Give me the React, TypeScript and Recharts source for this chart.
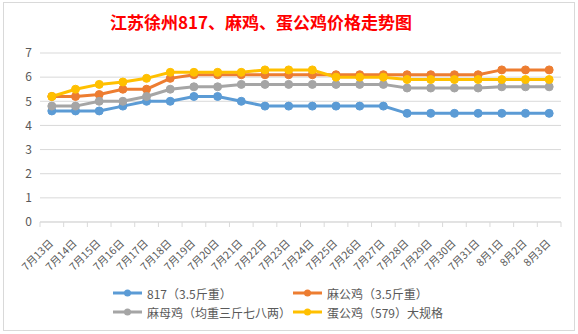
import { LineChart, Line, XAxis, YAxis, CartesianGrid } from "recharts";

const days = [
  "7月13日", "7月14日", "7月15日", "7月16日", "7月17日", "7月18日", "7月19日", "7月20日",
  "7月21日", "7月22日", "7月23日", "7月24日", "7月25日", "7月26日", "7月27日", "7月28日",
  "7月29日", "7月30日", "7月31日", "8月1日", "8月2日", "8月3日",
];
const s817 = [4.6, 4.6, 4.6, 4.8, 5.0, 5.0, 5.2, 5.2, 5.0, 4.8, 4.8, 4.8, 4.8, 4.8, 4.8, 4.5, 4.5, 4.5, 4.5, 4.5, 4.5, 4.5];
const maGong = [5.2, 5.2, 5.28, 5.5, 5.5, 5.95, 6.1, 6.1, 6.1, 6.1, 6.1, 6.1, 6.1, 6.1, 6.1, 6.1, 6.1, 6.1, 6.1, 6.3, 6.3, 6.3];
const maMu = [4.8, 4.8, 5.0, 5.0, 5.2, 5.5, 5.6, 5.6, 5.7, 5.7, 5.7, 5.7, 5.7, 5.7, 5.7, 5.55, 5.55, 5.55, 5.55, 5.6, 5.6, 5.6];
const danGong = [5.2, 5.5, 5.7, 5.8, 5.95, 6.2, 6.2, 6.2, 6.2, 6.3, 6.3, 6.3, 6.0, 6.0, 6.0, 5.9, 5.9, 5.9, 5.9, 5.9, 5.9, 5.9];
const yTicks = [0, 1, 2, 3, 4, 5, 6, 7];

const series = [
  { key: "s817", name: "817（3.5斤重）", color: "#5B9BD5", values: s817 },
  { key: "maGong", name: "麻公鸡（3.5斤重）", color: "#ED7D31", values: maGong },
  { key: "maMu", name: "麻母鸡（均重三斤七八两）", color: "#A5A5A5", values: maMu },
  { key: "danGong", name: "蛋公鸡（579）大规格", color: "#FFC000", values: danGong },
];

const data = days.map((d, i) => {
  const row: Record<string, string | number> = { d };
  series.forEach((s) => (row[s.key] = s.values[i]));
  return row;
});

const FONT = '"Noto Sans CJK SC", "Noto Sans", sans-serif';
const W = 578;
const H = 334;
const BAND = (W - 40 - 17) / days.length;

function DayTick(props: any) {
  const { x, y, payload, index } = props;
  const h = BAND / 2;
  return (
    <g>
      <line x1={x - h} y1={y} x2={x - h} y2={y + 5} stroke="#d9d9d9" />
      {index === days.length - 1 && <line x1={x + h} y1={y} x2={x + h} y2={y + 5} stroke="#d9d9d9" />}
      <text
        x={x + 2}
        y={y + 22}
        textAnchor="end"
        fontSize={10.5}
        fill="#595959"
        fontFamily={FONT}
        transform={`rotate(-45 ${x + 2} ${y + 22})`}
      >
        {payload.value}
      </text>
    </g>
  );
}

export default function App() {
  return (
    <div style={{ position: "absolute", left: 0, top: 0, width: W, height: H, background: "#fff", fontFamily: FONT }}>
      <div
        style={{
          position: "absolute",
          left: 3,
          top: 2,
          width: 572,
          height: 329,
          border: "1px solid #d9d9d9",
          boxSizing: "border-box",
        }}
      />
      <div
        style={{
          position: "absolute",
          left: 0,
          width: 522,
          top: 10,
          textAlign: "center",
          color: "#FF0000",
          fontWeight: "bold",
          fontSize: 17,
          lineHeight: "24px",
        }}
      >
        江苏徐州817、麻鸡、蛋公鸡价格走势图
      </div>
      <div style={{ position: "absolute", left: 0, top: 0 }}>
        <LineChart width={W} height={H} data={data} margin={{ top: 53, right: 17, bottom: 0, left: 0 }}>
          <CartesianGrid vertical={false} stroke="#d9d9d9" />
          <XAxis
            dataKey="d"
            interval={0}
            height={112}
            padding={{ left: BAND / 2, right: BAND / 2 }}
            stroke="#d9d9d9"
            tickLine={false}
            tickSize={0}
            tickMargin={0}
            tick={<DayTick />}
          />
          <YAxis
            domain={[0, 7]}
            ticks={yTicks}
            width={40}
            axisLine={false}
            tickLine={false}
            tick={{ fontSize: 12, fill: "#595959", fontFamily: FONT }}
          />
          {series.map((s) => (
            <Line
              key={s.key}
              dataKey={s.key}
              name={s.name}
              stroke={s.color}
              strokeWidth={3}
              dot={{ r: 4, fill: s.color, stroke: s.color, strokeWidth: 1 }}
              isAnimationActive={false}
            />
          ))}
        </LineChart>
      </div>
      <div
        style={{
          position: "absolute",
          left: 113,
          top: 285,
          display: "grid",
          gridTemplateColumns: "180px 200px",
          rowGap: 3,
          fontSize: 12,
          color: "#595959",
        }}
      >
        {series.map((s) => (
          <div key={s.key} style={{ display: "flex", alignItems: "center", height: 16, whiteSpace: "nowrap" }}>
            <svg width={32} height={10} style={{ marginRight: 2 }}>
              <line x1={0} y1={5} x2={29} y2={5} stroke={s.color} strokeWidth={3} />
              <circle cx={14.5} cy={5} r={3.5} fill={s.color} />
            </svg>
            {s.name}
          </div>
        ))}
      </div>
    </div>
  );
}
